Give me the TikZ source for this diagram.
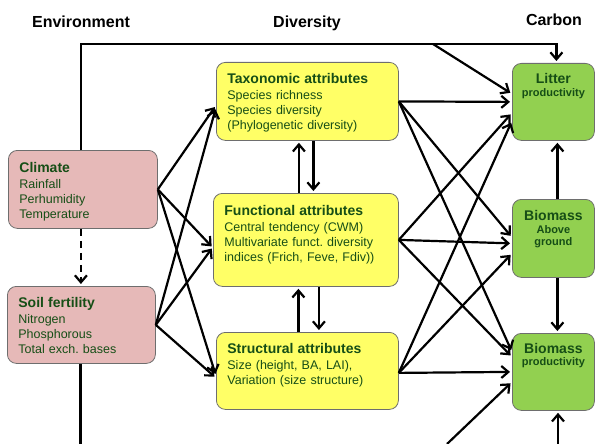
\documentclass[tikz,border=0pt]{standalone}
\usepackage{fontspec}
\setmainfont{Liberation Sans}
\usetikzlibrary{arrows.meta,positioning}

\definecolor{envpink}{RGB}{230,185,184}
\definecolor{divyellow}{RGB}{255,255,102}
\definecolor{carbgreen}{RGB}{146,208,80}
\definecolor{boxline}{RGB}{110,110,110}
\definecolor{labgreen}{RGB}{22,78,22}

\newcommand{\boxtitle}{\fontsize{14}{16}\selectfont\bfseries}
\newcommand{\boxbody}{\fontsize{12.5}{15}\selectfont}
\newcommand{\carbsub}{\fontsize{11}{13}\selectfont\bfseries}

\begin{document}
\begin{tikzpicture}[
    x=1pt, y=-1pt,
    head/.style={font=\fontsize{16}{18}\selectfont\bfseries, anchor=base},
    box/.style={
        draw=boxline,
        line width=0.8pt,
        rounded corners=9pt,
        anchor=north west,
        inner ysep=0pt,
        text=labgreen
    },
    envbox/.style={box, fill=envpink, align=left, inner xsep=11pt, font=\boxbody},
    divbox/.style={box, fill=divyellow, align=left, inner xsep=11pt, font=\boxbody},
    carbbox/.style={box, fill=carbgreen, align=center, inner xsep=3pt,
        minimum width=82pt, text width=76pt},
    arr/.style={-{Straight Barb[length=7pt,width=12pt]}, line width=2.2pt, shorten >=2pt},
    plain/.style={line width=2.2pt}
]
\useasboundingbox (0,0) rectangle (595,444);

% column headings
\node[head] (henv)  at (81,28)  {Environment};
\node[head] (hdiv)  at (307,28) {Diversity};
\node[head] (hcarb) at (554,26) {Carbon};

% environment
\node[envbox, minimum width=149pt, text width=127pt, text height=22pt, text depth=56pt]
    (clim) at (8,150)
    {{\boxtitle Climate}\\[1pt] Rainfall\\ Perhumidity\\ Temperature};
\node[envbox, minimum width=148pt, text width=126pt, text height=21pt, text depth=56pt]
    (soil) at (7,286)
    {{\boxtitle Soil fertility}\\[1pt] Nitrogen\\ Phosphorous\\ Total exch.\ bases};

% diversity
\node[divbox, minimum width=182pt, text width=160pt, text height=21pt, text depth=57pt]
    (tax) at (216,62)
    {{\boxtitle Taxonomic attributes}\\[1pt] Species richness\\ Species diversity\\ (Phylogenetic diversity)};
\node[divbox, minimum width=185pt, text width=163pt, text height=22pt, text depth=71pt]
    (func) at (213,193)
    {{\boxtitle Functional attributes}\\[1pt] Central tendency (CWM)\\ Multivariate funct.\ diversity\\ indices (Frich, Feve, Fdiv))};
\node[divbox, minimum width=182pt, text width=160pt, text height=21pt, text depth=56pt]
    (str) at (216,332)
    {{\boxtitle Structural attributes}\\[1pt] Size (height, BA, LAI),\\ Variation (size structure)};

% carbon
\node[carbbox, text height=20pt, text depth=57pt] (litter) at (512,63)
    {{\boxtitle Litter}\\[1pt] {\carbsub productivity}};
\node[carbbox, text height=21pt, text depth=57pt] (bio) at (512,199)
    {{\boxtitle Biomass}\\ {\carbsub Above\\ ground}};
\node[carbbox, text height=20pt, text depth=57pt] (prod) at (512,333)
    {{\boxtitle Biomass}\\ {\carbsub productivity}};

% loose ends
\coordinate (split) at (433,44);
\coordinate (soilout) at (80,444);
\coordinate (lowA) at (447,444);
\coordinate (lowB) at (558,444);

% climate over the top to litter
\draw[arr] ([xshift=-2pt]clim.north) -- ++(0,-106) -| ([xshift=3pt]litter.north);
\draw[arr] (split) -- ([yshift=8pt]litter.west);

% climate to soil, soil downwards
\draw[arr, dash pattern=on 7pt off 5pt] ([xshift=-2pt]clim.south) -- ([xshift=-2pt]clim.south |- soil.north);
\draw[plain] ([xshift=-1pt]soil.south) -- ([xshift=-1pt]soil.south |- soilout);

% environment to diversity
\draw[arr] (clim.east) -- ([yshift=-4pt]tax.west);
\draw[arr] (clim.east) -- ([yshift=-8pt]func.west);
\draw[arr] (clim.east) -- ([yshift=-5pt]str.west);
\draw[arr] (soil.east) -- ([yshift=-6pt]tax.west);
\draw[arr] (soil.east) -- ([yshift=-7pt]func.west);
\draw[arr] (soil.east) -- ([yshift=-7pt]str.west);

% between diversity boxes
\draw[arr] ([xshift=-7pt]func.north) -- ([xshift=-7pt]func.north |- tax.south);
\draw[arr] ([xshift=6pt]tax.south) -- ([xshift=6pt]tax.south |- func.north);
\draw[arr] ([xshift=-9pt]str.north) -- ([xshift=-9pt]str.north |- func.south);
\draw[arr] ([xshift=13pt]func.south) -- ([xshift=13pt]func.south |- str.north);

% diversity to carbon
\draw[arr] (tax.east) -- (litter.west);
\draw[arr] (tax.east) -- ([yshift=1pt]bio.west);
\draw[arr] (tax.east) -- ([yshift=20pt]prod.west);
\draw[arr] (func.east) -- ([yshift=-11pt]litter.west);
\draw[arr] (func.east) -- ([yshift=-5pt]bio.west);
\draw[arr] (func.east) -- ([yshift=15pt]prod.west);
\draw[arr] ([yshift=-2pt]str.east) -- ([yshift=-19pt]litter.west);
\draw[arr] ([yshift=-2pt]str.east) -- ([yshift=-15pt]bio.west);
\draw[arr] ([yshift=-2pt]str.east) -- (prod.west);

% within carbon
\draw[arr] ([xshift=4pt]bio.north) -- ([xshift=4pt]litter.south);
\draw[arr] ([xshift=4pt]bio.south) -- ([xshift=4pt]prod.north);
\draw[arr] (lowA) -- ([yshift=-10pt]prod.west);
\draw[arr] (lowB) -- (lowB |- prod.south);

\end{tikzpicture}
\end{document}
